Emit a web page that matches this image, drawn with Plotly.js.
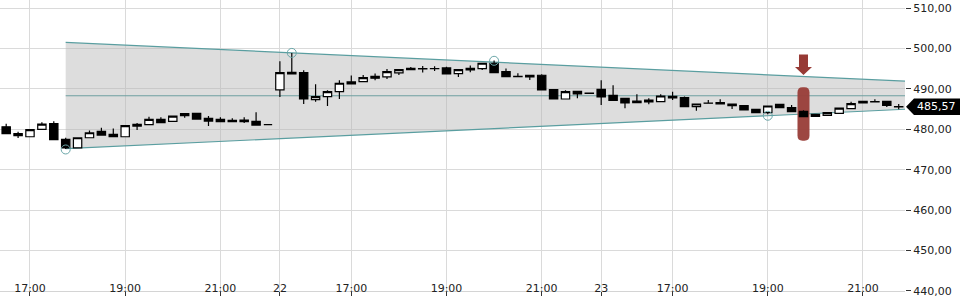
<!DOCTYPE html>
<html>
<head>
<meta charset="utf-8">
<script src="https://cdn.plot.ly/plotly-3.0.1.min.js"></script>
<style>html,body{margin:0;padding:0;background:#fff;}#chart{width:960px;height:300px;}</style>
</head>
<body>
<div id="chart"></div>
<script>
// 15-minute candles, three sessions (21st, 22nd, 23rd)
const times = [
  '21 16:30','21 16:45','21 17:00','21 17:15','21 17:30','21 17:45','21 18:00','21 18:15','21 18:30','21 18:45',
  '21 19:00','21 19:15','21 19:30','21 19:45','21 20:00','21 20:15','21 20:30','21 20:45','21 21:00','21 21:15',
  '21 21:30','21 21:45','21 22:00',
  '22 15:30','22 15:45','22 16:00','22 16:15','22 16:30','22 16:45','22 17:00','22 17:15','22 17:30','22 17:45',
  '22 18:00','22 18:15','22 18:30','22 18:45','22 19:00','22 19:15','22 19:30','22 19:45','22 20:00','22 20:15',
  '22 20:30','22 20:45','22 21:00','22 21:15','22 21:30','22 21:45','22 22:00',
  '23 15:30','23 15:45','23 16:00','23 16:15','23 16:30','23 16:45','23 17:00','23 17:15','23 17:30','23 17:45',
  '23 18:00','23 18:15','23 18:30','23 18:45','23 19:00','23 19:15','23 19:30','23 19:45','23 20:00','23 20:15',
  '23 20:30','23 20:45','23 21:00','23 21:15','23 21:30','23 21:45'
];
const openV = [
  480.63,478.90,478.15,479.97,481.38,477.49,475.42,477.90,479.47,478.73,
  478.15,481.21,481.13,482.45,481.96,483.36,483.94,482.70,482.45,482.20,
  482.28,481.96,481.13,
  489.73,494.11,494.03,487.33,488.08,489.32,491.72,491.80,493.12,492.96,
  493.95,495.11,495.00,495.05,495.19,493.78,495.11,495.02,496.35,494.28,
  493.10,493.37,493.37,489.81,487.50,489.40,488.95,
  489.90,488.41,487.66,487.00,487.25,486.84,488.16,487.83,485.60,486.51,
  486.59,486.26,485.84,484.93,484.11,486.17,485.35,484.44,483.20,483.44,
  483.94,485.10,486.92,486.85,486.92,485.60
];
const highV = [
  481.38,479.39,479.89,481.71,481.96,477.90,477.90,479.72,480.38,480.22,
  480.88,481.54,483.11,482.95,483.28,483.90,483.94,483.28,482.95,482.70,
  482.95,484.19,481.13,
  496.84,498.90,494.61,491.14,489.65,492.13,493.29,493.45,493.78,494.94,
  494.90,495.44,495.69,495.60,495.50,494.85,495.77,496.40,497.00,495.02,
  493.87,493.40,493.62,489.81,489.65,489.45,488.95,
  492.13,490.89,487.70,488.66,487.66,488.66,489.32,488.10,486.30,487.25,
  487.42,486.30,485.84,484.93,485.80,486.17,486.01,484.69,483.70,484.11,
  485.26,486.84,486.92,487.42,486.92,486.26
];
const lowV = [
  478.90,477.82,478.15,479.97,477.41,475.10,475.42,477.90,478.57,478.15,
  478.15,479.81,481.13,481.63,481.96,482.87,482.53,480.80,481.87,481.87,
  481.54,480.88,481.13,
  487.99,493.70,486.26,486.84,485.76,487.50,491.22,491.80,492.13,492.46,
  493.45,494.78,494.03,494.45,493.60,492.96,494.11,494.69,494.00,493.04,
  493.00,492.21,489.73,487.50,487.50,487.66,488.90,
  486.01,487.10,485.18,486.55,486.17,486.84,487.25,485.60,484.60,486.40,
  486.20,485.02,484.77,484.11,483.70,485.35,484.35,483.11,483.15,483.44,
  483.94,485.10,486.51,486.75,485.51,484.93
];
const closeV = [
  478.90,478.40,479.89,481.29,477.41,475.42,477.90,479.14,478.57,478.15,
  480.88,480.80,482.45,481.63,483.28,483.86,482.53,482.04,481.87,481.87,
  481.87,481.05,481.13,
  494.03,493.70,487.50,488.08,489.32,491.39,491.22,492.79,492.63,494.28,
  494.78,494.78,494.95,495.00,493.70,494.78,494.69,496.35,494.03,493.04,
  493.05,492.96,489.73,487.50,489.32,488.74,488.90,
  487.99,487.17,486.51,486.59,486.75,488.24,487.75,485.60,486.26,486.45,
  486.26,485.84,484.77,484.11,485.76,485.35,484.35,483.11,483.69,484.11,
  485.26,486.34,486.51,486.75,485.93,485.57
];
// axis ticks
const tickIdx  = [2, 10, 18, 23, 29, 37, 45, 50, 56, 64, 72];
const tickText = ['17:00','19:00','21:00','22','17:00','19:00','21:00','23','17:00','19:00','21:00'];
const yTicks   = [440, 450, 460, 470, 480, 490, 500, 510];
// triangle pattern (candle index, price)
const pivotIdx = [5, 24, 41, 64];
const pivotVal = [475.0, 498.9, 496.95, 483.35];
const upperLineIdx = [5, 75.5];
const upperLineVal = [501.5, 491.9];
const lowerLineIdx = [5, 75.5];
const lowerLineVal = [475.2, 484.95];
const midLineVal = 488.3;
// signal
const signalIdx = 67;
const signalVal = 483.8;

const xIdx = times.map((t, i) => i);
const xMax = 75.53;
const lineAt = (xs, ys, x) => ys[0] + (ys[1] - ys[0]) * (x - xs[0]) / (xs[1] - xs[0]);
const xs0 = upperLineIdx[0], xe = 80;
const u0 = lineAt(upperLineIdx, upperLineVal, xs0), u1 = lineAt(upperLineIdx, upperLineVal, xe);
const l0 = lineAt(lowerLineIdx, lowerLineVal, xs0), l1 = lineAt(lowerLineIdx, lowerLineVal, xe);

const teal = '#5a9ea0';
const lastClose = closeV[closeV.length - 1];

const traces = [
  {
    type: 'candlestick', x: xIdx, open: openV, high: highV, low: lowV, close: closeV,
    text: times, hoverinfo: 'text+y',
    whiskerwidth: 0,
    increasing: {line: {color: '#000', width: 1.2}, fillcolor: '#ffffff'},
    decreasing: {line: {color: '#000', width: 1.2}, fillcolor: '#000000'},
    showlegend: false
  },
  {
    type: 'scatter', mode: 'markers', x: pivotIdx, y: pivotVal,
    marker: {symbol: 'circle-open', size: 9, color: '#6aa6a8', line: {width: 1}},
    hoverinfo: 'skip', showlegend: false
  }
];

const shapes = [
  {type: 'path', layer: 'between', xref: 'x', yref: 'y',
   path: `M${xs0},${u0} L${xe},${u1} L${xe},${l1} L${xs0},${l0} Z`,
   fillcolor: 'rgba(180,180,180,0.45)', line: {width: 0}},
  {type: 'line', layer: 'between', xref: 'x', yref: 'y', x0: xs0, x1: xe, y0: midLineVal, y1: midLineVal,
   line: {color: '#6e9fa1', width: 1.1}},
  {type: 'line', layer: 'between', xref: 'x', yref: 'y', x0: xs0, x1: xe, y0: u0, y1: u1,
   line: {color: teal, width: 1.2}},
  {type: 'line', layer: 'between', xref: 'x', yref: 'y', x0: xs0, x1: xe, y0: l0, y1: l1,
   line: {color: teal, width: 1.2}},
  // signal bar
  {type: 'path', layer: 'between', xref: 'x', yref: 'y',
   xsizemode: 'pixel', ysizemode: 'pixel', xanchor: signalIdx, yanchor: signalVal,
   path: 'M-6,-21.5 Q-6,-26.7 -1,-26.7 L1,-26.7 Q6,-26.7 6,-21.5 L6,21.5 Q6,26.7 1,26.7 L-1,26.7 Q-6,26.7 -6,21.5 Z',
   fillcolor: '#9a403b', opacity: 0.97, line: {width: 0}},
  // signal arrow
  {type: 'path', layer: 'above', xref: 'x', yref: 'y',
   xsizemode: 'pixel', ysizemode: 'pixel', xanchor: signalIdx, yanchor: signalVal,
   path: 'M-4.5,59.5 L4.5,59.5 L4.5,47 L8.5,47 L0,39 L-8.5,47 L-4.5,47 Z',
   fillcolor: '#973a35', line: {width: 0}},
  // last price label
  {type: 'path', layer: 'above', xref: 'paper', yref: 'y',
   xsizemode: 'pixel', ysizemode: 'pixel', xanchor: 1, yanchor: lastClose,
   path: 'M1,0 L9,-8.3 L56,-8.3 L56,8.3 L9,8.3 Z',
   fillcolor: '#000000', line: {width: 0}}
];

const layout = {
  width: 960, height: 300,
  margin: {l: 0, r: 55, t: 0, b: 9, pad: 0},
  paper_bgcolor: '#ffffff', plot_bgcolor: '#ffffff',
  separators: ',.',
  font: {family: 'DejaVu Sans, sans-serif', size: 11, color: '#222'},
  showlegend: false,
  boxgap: 0.3, boxgroupgap: 0,
  xaxis: {
    type: 'linear', range: [-0.52, xMax],
    tickmode: 'array', tickvals: tickIdx, ticktext: tickText,
    ticks: 'outside', ticklen: 4, tickcolor: '#333', tickwidth: 1,
    ticklabelposition: 'outside', ticklabelstandoff: -17,
    showgrid: true, gridcolor: '#dadada', gridwidth: 1,
    showline: true, linecolor: '#d4d4d4', linewidth: 1,
    zeroline: false, fixedrange: true, automargin: false,
    rangeslider: {visible: false}
  },
  yaxis: {
    side: 'right', range: [439.97, 512],
    tickmode: 'array', tickvals: yTicks, tickformat: '.2f',
    ticks: 'outside', ticklen: 5, tickcolor: '#333', tickwidth: 1,
    showgrid: true, gridcolor: '#dadada', gridwidth: 1,
    zeroline: false, showline: false, fixedrange: true, automargin: false
  },
  shapes: shapes,
  annotations: [
    {xref: 'paper', yref: 'y', x: 1, y: lastClose, xanchor: 'left', yanchor: 'middle',
     xshift: 10, showarrow: false, text: lastClose.toFixed(2).replace('.', ','),
     font: {family: 'DejaVu Sans, sans-serif', size: 11, color: '#ffffff'}}
  ]
};

Plotly.newPlot('chart', traces, layout, {displayModeBar: false, staticPlot: true});
</script>
</body>
</html>
